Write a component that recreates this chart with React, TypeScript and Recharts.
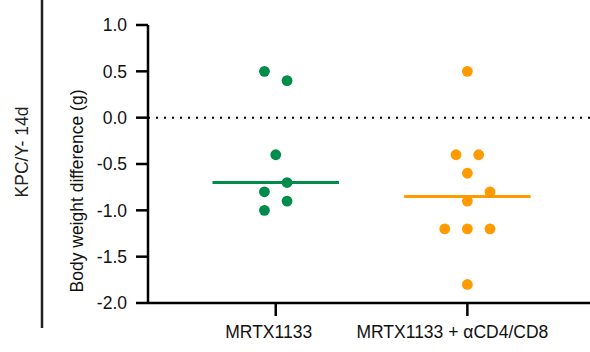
import {
  ReferenceLine,
  Scatter,
  ScatterChart,
  XAxis,
  YAxis,
} from "recharts";

const GROUPS = ["MRTX1133", "MRTX1133 + αCD4/CD8"];
const GROUP_COLORS = ["#008C4A", "#FF9A00"];

// body weight difference (g) per mouse, with horizontal jitter slot
const MRTX_VALUES = [0.5, 0.4, -0.4, -0.7, -0.8, -0.9, -1.0];
const MRTX_SLOTS = [-1, 1, 0, 1, -1, 1, -1];
const COMBO_VALUES = [0.5, -0.4, -0.4, -0.6, -0.8, -0.9, -1.2, -1.2, -1.2, -1.8];
const COMBO_SLOTS = [0, -1, 1, 0, 2, 0, -2, 0, 2, 0];

const Y_TICKS = [-2, -1.5, -1, -0.5, 0, 0.5, 1];
const JITTER = 0.059;
const HALF_WIDTH = 0.33;
const LABEL_SHIFT = [-7, -15];
const FONT = "'Liberation Sans', Arial, sans-serif";

const median = (vals: number[]) => {
  const s = [...vals].sort((a, b) => a - b);
  const m = Math.floor(s.length / 2);
  return s.length % 2 ? s[m] : (s[m - 1] + s[m]) / 2;
};

const toPoints = (vals: number[], slots: number[], center: number) =>
  vals.map((v, i) => ({ x: center + slots[i] * JITTER, y: v }));

const series = [
  { values: MRTX_VALUES, points: toPoints(MRTX_VALUES, MRTX_SLOTS, 1) },
  { values: COMBO_VALUES, points: toPoints(COMBO_VALUES, COMBO_SLOTS, 2) },
];

const dot = (color: string) => (props: any) => (
  <circle cx={props.cx} cy={props.cy} r={5.4} fill={color} />
);

const GroupTick = (props: any) => {
  const { x, y, payload } = props;
  const i = payload.value - 1;
  return (
    <text
      x={x + LABEL_SHIFT[i]}
      y={y}
      dy="0.71em"
      textAnchor="middle"
      fontFamily={FONT}
      fontSize={17.5}
      fill="#111"
    >
      {GROUPS[i]}
    </text>
  );
};

export default function App() {
  return (
    <div
      style={{
        position: "absolute",
        left: 0,
        top: 0,
        width: 590,
        height: 352,
        background: "#fff",
      }}
    >
      <svg
        width={590}
        height={352}
        style={{ position: "absolute", left: 0, top: 0 }}
      >
        <line x1={42} y1={0} x2={42} y2={328} stroke="#222" strokeWidth={2.5} />
        <text
          x={22}
          y={152}
          transform="rotate(-90 22 152)"
          textAnchor="middle"
          dominantBaseline="central"
          fontFamily={FONT}
          fontSize={17.5}
          fill="#222"
        >
          KPC/Y- 14d
        </text>
      </svg>
      <div style={{ position: "absolute", left: 0, top: 0 }}>
        <ScatterChart
          width={590}
          height={352}
          margin={{ top: 25, right: 0, bottom: 0, left: 0 }}
        >
          <XAxis
            type="number"
            dataKey="x"
            domain={[1 / 3, 2.64]}
            ticks={[1, 2]}
            allowDataOverflow
            height={49}
            tickSize={13}
            tickMargin={10}
            axisLine={{ stroke: "#000", strokeWidth: 2.5 }}
            tickLine={{ stroke: "#000", strokeWidth: 2.5 }}
            tick={<GroupTick />}
            interval={0}
          />
          <YAxis
            type="number"
            dataKey="y"
            domain={[-2, 1]}
            ticks={Y_TICKS}
            tickFormatter={(v: number) => v.toFixed(1)}
            width={148}
            tickSize={12}
            tickMargin={9}
            axisLine={{ stroke: "#000", strokeWidth: 2.5 }}
            tickLine={{ stroke: "#000", strokeWidth: 2.5 }}
            tick={{ fill: "#111", fontSize: 17.5, fontFamily: FONT }}
            label={{
              content: ({ viewBox }: any) => {
                const cx = viewBox.x + 77;
                const cy = viewBox.y + viewBox.height / 2 + 27;
                return (
                  <text
                    x={cx}
                    y={cy}
                    transform={`rotate(-90 ${cx} ${cy})`}
                    textAnchor="middle"
                    dominantBaseline="central"
                    fontFamily={FONT}
                    fontSize={17.5}
                    fill="#111"
                  >
                    Body weight difference (g)
                  </text>
                );
              },
            }}
          />
          <ReferenceLine
            y={0}
            stroke="#000"
            strokeWidth={2}
            strokeDasharray="2 6"
          />
          {series.map((s, i) => (
            <ReferenceLine
              key={`m${i}`}
              segment={[
                { x: i + 1 - HALF_WIDTH, y: median(s.values) },
                { x: i + 1 + HALF_WIDTH, y: median(s.values) },
              ]}
              stroke={GROUP_COLORS[i]}
              strokeWidth={3}
            />
          ))}
          {series.map((s, i) => (
            <Scatter
              key={`s${i}`}
              data={s.points}
              fill={GROUP_COLORS[i]}
              shape={dot(GROUP_COLORS[i])}
              isAnimationActive={false}
            />
          ))}
        </ScatterChart>
      </div>
    </div>
  );
}
